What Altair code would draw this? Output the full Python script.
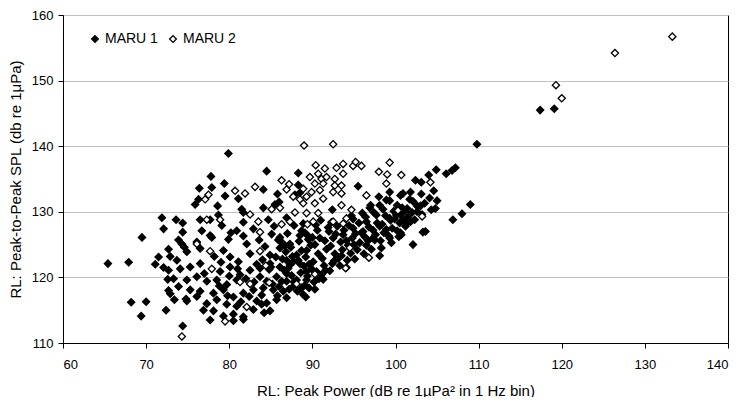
import altair as alt
import pandas as pd

# MARU 1 (filled diamonds) -- (peak power, peak-to-peak SPL)
m1_left = [(65.4,122.1),(67.9,122.3),(68.2,116.2),(70.0,116.3),(69.4,114.1),(69.5,126.1),(71.1,122.0),(71.5,123.1),
           (71.9,129.1),(72.1,127.4),(72.7,124.3),(72.9,123.2),(73.7,122.6),(72.1,121.5),(72.7,121.1),(74.1,121.3),
           (72.6,119.7),(73.3,119.8),(73.9,118.6),(72.7,118.0),(72.9,117.5),(73.4,116.6),(74.8,116.7),(72.4,115.0),
           (74.4,112.6),(73.6,128.8),(74.4,128.3),(74.4,126.9),(73.9,125.7),(74.3,125.1)]
m1_mid = [(74.6,124.6),(76.1,125.4),(77.9,126.1),(79.9,125.8),(81.7,126.3),(82.1,125.1),(85.9,125.7),(87.3,125.1),(88.5,126.4),(89.5,125.8),
          (74.9,123.9),(76.5,124.4),(79.3,124.1),(80.1,123.1),(81.1,122.4),(82.5,123.6),(83.3,122.0),(84.9,123.4),(86.1,124.5),(86.9,122.6),(88.1,123.4),(89.3,124.1),
          (75.3,121.6),(76.5,122.1),(78.9,120.9),(80.1,121.6),(81.3,120.4),(82.5,121.1),(83.7,121.4),(84.9,122.1),(86.1,121.6),(87.3,121.9),(88.5,122.1),(89.3,120.9),
          (74.9,119.6),(76.1,120.1),(77.3,119.4),(78.5,119.6),(79.7,118.9),(80.9,119.6),(83.7,120.1),(84.5,119.4),(85.7,120.1),(86.9,119.4),(89.3,119.6),
          (75.3,118.1),(76.5,117.9),(78.1,117.6),(79.3,118.1),(80.5,117.0),(81.7,117.6),(82.9,118.1),(84.1,118.4),(85.3,118.1),(86.5,117.9),(87.7,118.6),(88.9,117.4),
          (74.9,116.4),(76.1,117.1),(77.3,116.0),(78.5,116.6),(79.7,115.9),(80.9,115.6),(83.3,116.4),(84.5,116.1),(85.7,116.6),(86.9,116.9),
          (76.9,115.0),(78.1,114.9),(79.3,114.1),(80.5,114.4),(81.7,114.0),(82.9,115.1),(84.9,114.9),
          (77.7,113.5),(80.5,113.4),(81.7,113.6),(84.2,114.6),
          (84.3,124.7),(85.1,126.6),(85.6,123.1),(84.8,121.2),(85.2,119.0),(83.9,117.3),(85.8,117.2),(86.2,125.5),
          (87.0,126.7),(87.8,127.9),(85.4,127.8),(83.6,125.7),(88.9,128.2),(90.4,128.0)]
m1_upper = [(79.9,138.9),(77.8,135.4),(76.4,133.6),(77.9,133.7),(79.4,134.3),(76.3,131.9),(75.9,131.1),(79.5,132.4),
            (81.1,132.0),(78.6,130.9),(84.5,136.2),(84.1,133.4),(85.8,132.7),(85.5,131.1),(86.0,131.5),(84.1,130.6),
            (81.5,130.4),(81.7,129.9),(78.7,129.5),(79.1,127.9),(81.7,128.4),(84.7,128.8),(86.9,129.1),(88.3,135.9),
            (88.3,134.1),(88.5,132.9),(87.9,132.6),(76.5,128.8),(77.7,128.8),(76.7,127.1),(77.7,126.4),(80.9,127.1),
            (82.9,127.4),(86.1,126.1),(88.7,127.1),(80.2,126.8)]
m1_band = [(95.5,133.9),(92.4,130.3),(102.4,134.8),(104.0,135.6),(99.3,133.0),(100.6,132.5),(101.8,133.0),(98.1,131.0),
           (98.9,131.8),(100.2,131.0),(101.4,130.5),(102.6,130.0),(97.7,129.5),(99.3,129.0),(100.6,129.5),(101.8,128.5),
           (96.5,128.5),(94.9,127.5),(96.1,127.0),(98.1,127.8),(100.6,126.8),(103.6,127.0),(93.7,126.5),(90.9,126.0),
           (89.1,126.8),(92.5,126.0),(97.3,126.0),(99.3,126.0),
           (89.2,117.0),(90.3,118.2),(89.6,118.4),(91.3,119.7),(94.1,121.5),(98.1,123.3),(99.5,125.3),(102.1,125.0),
           (100.7,126.5),(98.3,124.5),(101.3,128.2),(103.3,126.9),(104.8,130.5),(106.9,128.8),(108.0,129.7),(109.0,131.1),
           (105.0,131.7),(104.6,133.2),(103.1,134.5),(104.9,136.4),(106.1,135.8),(107.2,136.7),(106.8,136.3),(100.9,132.8)]
m1_dense = [(86.3,119.4),(86.6,121.1),(86.4,122.8),(86.8,123.9),
            (87.2,118.2),(87.5,120.3),(87.1,121.4),(87.6,123.2),(87.4,124.6),
            (88.2,117.9),(88.1,119.6),(88.6,120.7),(88.3,122.6),(88.7,124.1),(88.4,125.5),
            (89.1,118.8),(89.4,120.2),(89.6,122.0),(89.2,123.1),(89.8,124.9),(89.5,126.3),
            (90.2,119.3),(90.5,120.9),(90.1,122.4),(90.7,123.6),(90.3,125.0),(90.6,127.2),
            (91.1,120.4),(91.4,121.8),(91.2,122.9),(91.7,124.3),(91.5,125.6),(91.9,127.6),
            (92.1,121.0),(92.4,122.1),(92.7,123.6),(92.2,124.8),(92.8,126.6),(92.3,128.4),
            (93.3,121.8),(93.1,122.9),(93.6,124.2),(93.4,125.4),(93.8,127.2),
            (94.2,122.6),(94.6,123.7),(94.3,124.9),(94.8,126.0),(94.4,127.9),(94.7,129.4),
            (95.1,122.8),(95.4,124.2),(95.7,125.3),(95.2,126.7),(95.6,128.3),
            (96.2,123.6),(96.5,124.9),(96.3,126.2),(96.8,127.7),(96.4,129.2),(96.9,130.6),
            (97.1,124.3),(97.5,125.7),(97.3,127.2),(97.8,128.3),(97.4,129.9),
            (98.2,125.6),(98.6,126.8),(98.4,128.1),(98.8,129.4),(98.5,130.4),
            (99.2,126.3),(99.6,127.5),(99.4,128.7),(99.8,130.1),(99.3,131.7),
            (100.2,127.1),(100.5,128.3),(100.1,129.5),(100.8,130.6),
            (101.2,127.8),(101.5,129.2),(101.1,130.1),(101.7,131.9),
            (102.3,128.8),(102.6,130.9),(102.1,131.6),
            (103.2,129.6),(103.5,131.3),(103.1,132.7),
            (104.3,130.3),(104.1,132.1)]
m1_dense2 = [(86.0,118.6),(86.9,120.6),(87.8,119.3),(88.7,118.4),(89.9,121.3),(90.8,119.8),(91.6,121.1),(92.6,122.5),
             (93.5,123.3),(94.1,125.6),(95.0,125.0),(95.9,126.8),(96.7,125.6),(97.6,126.5),(98.9,127.3),(99.9,128.9),
             (100.4,126.2),(101.0,128.7),(102.0,129.9),(103.0,130.9),(93.0,127.8),(91.0,128.7),(92.0,127.0),(90.0,126.1),
             (89.0,121.7),(87.7,122.4),(86.7,124.9),(85.0,121.6),(84.0,122.7),(83.0,119.3),(82.0,119.8),(81.0,121.3),
             (80.0,120.2),(79.0,122.3),(78.2,123.2),(77.0,120.6),(79.8,117.2),(78.8,118.7),(81.4,116.3),(82.4,117.1),
             (83.9,115.9),(94.9,128.9),(96.0,129.8),(97.0,131.0),(98.0,132.3)]
m1_outliers = [(109.8,140.3),(117.4,145.5),(119.1,145.7)]

# MARU 2 (open diamonds)
m2_far = [(133.3,156.7),(126.4,154.2),(119.3,149.3),(120.0,147.3)]
m2_upper = [(89.0,140.1),(92.5,140.3),(90.4,137.1),(91.5,136.6),(92.9,136.7),(93.7,137.3),(94.9,137.0),(95.2,137.6),
            (95.9,137.0),(99.3,137.5),(98.0,136.1),(99.0,135.7),(100.7,135.6),(98.9,134.3),(96.5,132.5),(89.7,135.3),
            (90.7,135.8),(91.1,135.0),(91.7,135.3),(92.7,135.0),(93.7,135.8),(90.3,134.3),(91.3,134.3),(92.7,134.0),
            (93.5,134.0),(88.9,133.5),(89.9,133.0),(90.9,133.3),(92.5,133.0),(93.5,132.8),(89.3,132.3),(91.3,132.0),
            (88.9,131.3),(90.3,131.3),(93.5,131.0),(94.7,130.3),(89.3,129.8),(90.7,129.8),(90.1,128.5),(92.5,128.5),
            (94.1,129.0),(103.2,129.3),(104.2,134.5),(100.3,130.2)]
m2_mid = [(80.7,133.2),(81.9,132.8),(83.1,133.8),(86.3,134.8),(87.2,134.2),(77.1,131.9),(77.5,132.6),(77.3,128.8),
          (78.9,128.8),(82.5,129.6),(83.5,128.5),(83.7,126.9),(86.3,128.1),(87.3,128.5),(87.9,129.9),(86.1,130.6),
          (85.1,130.4),(87.7,132.3),(88.5,131.9),(86.9,133.4),(89.4,128.1),(93.7,128.2)]
m2_low = [(76.1,125.1),(77.7,124.0),(77.9,121.3),(81.3,119.3),(82.5,119.0),(83.7,124.0),(88.1,119.0),(82.1,115.5),
          (79.5,113.3),(74.3,111.0),(96.8,123.0),(94.0,121.4),(90.3,120.5),(84.8,119.2),(94.5,124.5),(84.4,121.8)]

x_ticks = [60, 70, 80, 90, 100, 110, 120, 130, 140]
y_ticks = [110, 120, 130, 140, 150, 160]
series_names = ["MARU 1", "MARU 2"]

m1 = m1_left + m1_mid + m1_upper + m1_band + m1_dense + m1_dense2 + m1_outliers
m2 = m2_far + m2_upper + m2_mid + m2_low
rows = [{"power": p, "spl": s, "series": series_names[0]} for p, s in m1] + \
       [{"power": p, "spl": s, "series": series_names[1]} for p, s in m2]
df = pd.DataFrame(rows)

FONT = "Liberation Sans"

chart = alt.Chart(df).mark_point(
    shape="diamond", size=52, filled=True, stroke="black", strokeWidth=1.3, opacity=1
).encode(
    x=alt.X("power:Q", scale=alt.Scale(domain=[60, 140], nice=False),
            axis=alt.Axis(values=x_ticks, title="RL: Peak Power (dB re 1µPa² in 1 Hz bin)", grid=False,
                          tickSize=5, labelPadding=10, titlePadding=12)),
    y=alt.Y("spl:Q", scale=alt.Scale(domain=[110, 160], nice=False, zero=False),
            axis=alt.Axis(values=y_ticks, title="RL: Peak-to-Peak SPL (db re 1μPa)", grid=True,
                          tickSize=5, labelPadding=5, titlePadding=8)),
    fill=alt.Fill("series:N", scale=alt.Scale(domain=series_names, range=["#000000", "#ffffff"]),
                  legend=alt.Legend(title=None, orient="none", legendX=25, legendY=17, direction="horizontal",
                                    labelFontSize=14, labelFont=FONT, labelColor="#000000",
                                    symbolType="diamond", symbolSize=46, symbolStrokeColor="black",
                                    symbolStrokeWidth=1.3, columnPadding=8, labelOffset=3, padding=0)),
).properties(
    width=665, height=328,
    autosize=alt.AutoSizeParams(type="none"),
    padding={"left": 55, "top": 7, "right": 10, "bottom": 54},
).configure_view(
    stroke="black", strokeWidth=1
).configure_axis(
    labelFont=FONT, labelFontSize=13, labelColor="#000000",
    titleFont=FONT, titleFontSize=15, titleFontWeight="normal", titleColor="#000000",
    domainColor="black", tickColor="black", gridColor="#c0c0c0", gridWidth=1
)

chart.save("out.html", embed_options={"renderer": "svg", "actions": False})
